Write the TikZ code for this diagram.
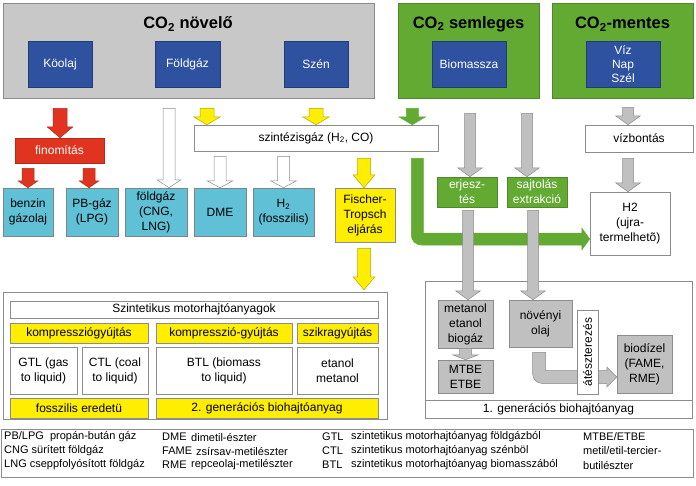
\documentclass[tikz,border=0pt]{standalone}
\usepackage{fontspec}
\setmainfont{Liberation Sans}
\usetikzlibrary{calc}

\definecolor{kek}{RGB}{46,82,160}
\definecolor{zold}{RGB}{99,170,50}
\definecolor{hatter}{RGB}{200,200,200}
\definecolor{cian}{RGB}{95,192,214}
\definecolor{piros}{RGB}{224,52,32}
\definecolor{sarga}{RGB}{255,238,0}
\definecolor{nyszurke}{RGB}{192,192,192}
\definecolor{keret}{RGB}{140,140,140}

% nyil meretei (fel testszelesseg, fel fejszelesseg, fejhossz)
\def\nyiltest{6}\def\nyilfej{12}\def\nyilhossz{9}

\tikzset{
  testfel/.code={\def\nyiltest{#1}},
  fejfel/.code={\def\nyilfej{#1}},
  fejhossz/.code={\def\nyilhossz{#1}},
  meret/.style 2 args={minimum width=#1, minimum height=#2},
  doboz/.style={draw=keret, line width=0.5pt, align=center, inner sep=1pt,
    font=\fontsize{12}{15}\selectfont},
  kategoria/.style={doboz, line width=0.7pt},
  cim/.style={font=\fontsize{16.5}{18}\selectfont\bfseries},
  forras/.style={doboz, fill=kek, draw=kek!75!black, text=white},
  termek/.style={doboz, fill=cian, draw=gray!90!cian},
  folyamat/.style={doboz, fill=zold, draw=zold!80!black, text=white},
  sargadoboz/.style={doboz, fill=sarga, draw=keret},
  feherdoboz/.style={doboz, fill=white},
  szurkedoboz/.style={doboz, fill=nyszurke, draw=keret},
  jel/.style={anchor=west, inner sep=0pt, font=\fontsize{11}{14}\selectfont},
  nyil/.style={line width=0.5pt, line join=miter},
  pirosnagy/.style={fill=piros, draw=piros!80!black, testfel=7, fejfel=13, fejhossz=11},
  pirosnyil/.style={fill=piros, draw=piros!80!black, testfel=6, fejfel=10, fejhossz=7},
  fehernyil/.style={fill=white, draw=keret, testfel=6, fejfel=12, fejhossz=8},
  sarganyil/.style={fill=sarga, draw=sarga!70!black, testfel=7, fejfel=13.5, fejhossz=8},
  sargahosszu/.style={fill=sarga, draw=sarga!70!black, testfel=6.5, fejfel=11, fejhossz=13},
  zoldnyil/.style={fill=zold, draw=zold, testfel=6, fejfel=13.5, fejhossz=8},
  szurkenyil/.style={fill=nyszurke, draw=keret, testfel=5.5, fejfel=12.5, fejhossz=9},
}

% egyenes blokknyil lefele
\newcommand{\nyil}[3][]{%
  \filldraw[nyil,#1] let \p1=#2, \p2=#3 in
    (\x1-\nyiltest,\y1) -- (\x1-\nyiltest,\y2+\nyilhossz) -- (\x1-\nyilfej,\y2+\nyilhossz)
    -- (\x1,\y2) -- (\x1+\nyilfej,\y2+\nyilhossz) -- (\x1+\nyiltest,\y2+\nyilhossz)
    -- (\x1+\nyiltest,\y1) -- cycle;}
% lefele indulo, jobbra fordulo blokknyil
\newcommand{\hajlitott}[3][]{%
  \filldraw[nyil,#1] let \p1=#2, \p2=#3 in
    (\x1-\nyiltest,\y1) -- (\x1-\nyiltest,\y2-\nyiltest+10pt)
    arc[start angle=180, end angle=270, radius=10pt]
    -- (\x2-\nyilhossz,\y2-\nyiltest) -- (\x2-\nyilhossz,\y2-\nyilfej) -- (\x2,\y2)
    -- (\x2-\nyilhossz,\y2+\nyilfej) -- (\x2-\nyilhossz,\y2+\nyiltest)
    -- (\x1+\nyiltest,\y2+\nyiltest) -- (\x1+\nyiltest,\y1) -- cycle;}

\begin{document}
\begin{tikzpicture}[x=1pt, y=-1pt]
  \useasboundingbox (0,0) rectangle (696,485);

  % ~~~~ Forrasok ~~~~ %
  \node[kategoria, fill=hatter, meret={371}{95}] (novelo) at (188.5,50.5) {};
  \node[kategoria, fill=zold, draw=zold!80!black, meret={141}{95}] (semleges) at (468.5,50.5) {};
  \node[kategoria, fill=zold, draw=zold!80!black, meret={141}{95}] (mentes) at (622.5,50.5) {};
  \node[cim] (novelocim) at (188,24) {CO\textsubscript{2} növelő};
  \node[cim] (semlegescim) at (468.5,24) {CO\textsubscript{2} semleges};
  \node[cim] (mentescim) at (622.5,24) {CO\textsubscript{2}-mentes};

  \node[forras, meret={64}{46}] (koolaj) at (60,64) {Köolaj};
  \node[forras, meret={65}{46}] (foldgaz) at (187.5,64) {Földgáz};
  \node[forras, meret={64}{46}] (szen) at (316,64) {Szén};
  \node[forras, meret={74}{46}] (biomassza) at (469,64) {Biomassza};
  \node[forras, meret={74}{46}, font=\fontsize{12}{14}\selectfont] (viz) at (623,64) {Víz\\Nap\\Szél};

  % ~~~~ Atalakitas ~~~~ %
  \node[doboz, fill=piros, draw=piros!80!black, text=white, meret={89}{25}] (finom) at (59.5,150.5) {finomítás};
  \node[feherdoboz, meret={244}{26}] (szintezis) at (316,138) {szintézisgáz (H\textsubscript{2}, CO)};
  \node[feherdoboz, meret={108}{27}] (vizbontas) at (639,138.5) {vízbontás};

  % ~~~~ Termekek ~~~~ %
  \node[termek, meret={50}{48}] (benzin) at (28,212) {benzin\\gázolaj};
  \node[termek, meret={52}{48}] (pbgaz) at (92,212) {PB-gáz\\(LPG)};
  \node[termek, meret={62}{48}] (foldgaz2) at (156,212) {földgáz\\(CNG,\\LNG)};
  \node[termek, meret={52}{48}] (dme) at (220,212) {DME};
  \node[termek, meret={61}{48}] (hidrogen) at (283.5,212) {H\textsubscript{2}\\(fosszilis)};
  \node[sargadoboz, meret={60}{54}] (ft) at (365,215) {Fischer-\\Tropsch\\eljárás};
  \node[folyamat, meret={60}{30}] (erjesztes) at (467,192) {erjesz-\\tés};
  \node[folyamat, meret={60}{30}] (sajtolas) at (537,192) {sajtolás\\extrakció};
  \node[feherdoboz, meret={80}{63}] (h2) at (630,223.5) {H2\\(ujra-\\termelhetõ)};

  % ~~~~ Szintetikus ~~~~ %
  \node[feherdoboz, meret={384}{127}] (szint) at (195,355.5) {};
  \node[feherdoboz, meret={368}{17}] (szintcim) at (194,309.5) {Szintetikus motorhajtóanyagok};
  \node[sargadoboz, meret={138}{20}] (kompr1) at (79,333) {kompressziógyújtás};
  \node[feherdoboz, meret={67}{47}] (gtl) at (43.5,370.5) {GTL (gas\\to liquid)};
  \node[feherdoboz, meret={66}{47}] (ctl) at (115,370.5) {CTL (coal\\to liquid)};
  \node[sargadoboz, meret={138}{20}] (fossz) at (79,408) {fosszilis eredetü};
  \node[sargadoboz, meret={136}{20}] (kompr2) at (224,333) {kompresszió-gyújtás};
  \node[sargadoboz, meret={81}{20}] (szikra) at (337.5,333) {szikragyújtás};
  \node[feherdoboz, meret={136}{47}] (btl) at (224,370.5) {BTL (biomass\\to liquid)};
  \node[feherdoboz, meret={81}{47}] (etanol) at (337.5,370.5) {etanol\\metanol};
  \node[sargadoboz, meret={222}{20}] (gen2) at (267,408) {2. generációs biohajtóanyag};

  % ~~~~ 1. generacio ~~~~ %
  \node[feherdoboz, meret={267}{137}] (gen1) at (558.5,349.5) {};
  \draw[keret, line width=0.5pt] (gen1.west |- 0,400) -- (gen1.east |- 0,400);
  \node[doboz, draw=none] (gen1cim) at (558.5,409) {1. generációs biohajtóanyag};
  \node[szurkedoboz, meret={55}{48}] (metanol) at (465.5,324) {metanol\\etanol\\biogáz};
  \node[szurkedoboz, meret={55}{33}] (mtbe) at (465.5,376.5) {MTBE\\ETBE};
  \node[szurkedoboz, meret={63}{47}] (novenyi) at (540.5,323.5) {növényi\\olaj};
  \node[szurkedoboz, meret={55}{58}] (biodizel) at (644.5,364) {biodízel\\(FAME,\\RME)};

  % ~~~~ Nyilak ~~~~ %
  \nyil[pirosnagy]{($(koolaj |- novelo.south)+(0,10)$)}{(koolaj |- finom.north)}
  \nyil[pirosnyil]{($(benzin |- finom.south)+(0,5)$)}{(benzin.north)}
  \nyil[pirosnyil]{($(pbgaz |- finom.south)+(-3,5)$)}{($(pbgaz.north)+(-3,0)$)}
  \nyil[fehernyil]{($(foldgaz2 |- novelo.south)+(13,10)$)}{($(foldgaz2.north)+(13,0)$)}
  \nyil[sarganyil]{($(dme |- novelo.south)+(-13,10)$)}{($(dme |- szintezis.north)+(-13,0)$)}
  \nyil[sarganyil]{($(szen |- novelo.south)+(0,10)$)}{(szen |- szintezis.north)}
  \nyil[zoldnyil]{($(szintezis.east |- semleges.south)+(-26,10)$)}{($(szintezis.north east)+(-26,0)$)}
  \nyil[fehernyil, fejfel=13, fejhossz=7]{($(dme |- szintezis.south)+(0,5)$)}{(dme.north)}
  \nyil[fehernyil, fejfel=13, fejhossz=7]{($(hidrogen |- szintezis.south)+(0,5)$)}{(hidrogen.north)}
  \nyil[sargahosszu]{($(ft |- szintezis.south)+(-1,7)$)}{($(ft.north)+(-1,0)$)}
  \nyil[sargahosszu]{($(ft.south)+(-1,6)$)}{($(ft.south |- szint.north)+(-1,-2)$)}
  \hajlitott[zoldnyil, fejfel=11]{($(szintezis.south east)+(-21,7)$)}{($(h2.west)+(0,15.5)$)}
  \nyil[szurkenyil]{($(erjesztes |- semleges.south)+(3,15)$)}{($(erjesztes.north)+(3,0)$)}
  \nyil[szurkenyil]{($(sajtolas |- semleges.south)+(-10,15)$)}{($(sajtolas.north)+(-10,0)$)}
  \nyil[szurkenyil]{($(vizbontas |- mentes.south)+(-11,9)$)}{($(vizbontas.north)+(-11,0)$)}
  \nyil[szurkenyil]{($(vizbontas.south)+(-11,6)$)}{($(h2.north)+(-2,0)$)}
  \nyil[szurkenyil]{($(erjesztes.south)+(1,3)$)}{(erjesztes |- metanol.north)}
  \nyil[szurkenyil]{($(sajtolas.south)+(-4,3)$)}{(sajtolas |- novenyi.north)}
  \nyil[szurkenyil, testfel=6, fejfel=13, fejhossz=5]{(metanol.south)}{(mtbe.north)}
  \hajlitott[szurkenyil, testfel=6.5, fejfel=10, fejhossz=10]{($(novenyi.south)+(-1.5,5)$)}{($(biodizel.west)+(0,13)$)}
  % az atesztereles doboza a nyil folott
  \node[feherdoboz, meret={84}{21}, rotate=90] (atesz) at (587.5,352) {átészterezés};

  % ~~~~ Jelmagyarazat ~~~~ %
  \node[doboz, meret={692}{48}] (jelm) at (347,453) {};
  \node[jel] (j11) at (4,437) {PB/LPG\ \ propán-bután gáz};
  \node[jel] (j21) at (4,451) {CNG sürített földgáz};
  \node[jel] (j31) at (4,465) {LNG cseppfolyósított földgáz};
  \node[jel] (j12) at (162,437) {DME};
  \node[jel] (j12b) at (191,437) {dimetil-észter};
  \node[jel] (j22) at (162,451) {FAME};
  \node[jel] (j22b) at (196,451) {zsírsav-metilészter};
  \node[jel] (j32) at (162,465) {RME};
  \node[jel] (j32b) at (191,465) {repceolaj-metilészter};
  \node[jel] (j13) at (322,437) {GTL};
  \node[jel] (j13b) at (351,437) {szintetikus motorhajtóanyag földgázból};
  \node[jel] (j23) at (322,451) {CTL};
  \node[jel] (j23b) at (351,451) {szintetikus motorhajtóanyag szénböl};
  \node[jel] (j33) at (322,465) {BTL};
  \node[jel] (j33b) at (351,465) {szintetikus motorhajtóanyag biomasszából};
  \node[jel] (j14) at (583,437) {MTBE/ETBE};
  \node[jel] (j24) at (583,451) {metil/etil-tercier-};
  \node[jel] (j34) at (583,465) {butilészter};
\end{tikzpicture}
\end{document}
